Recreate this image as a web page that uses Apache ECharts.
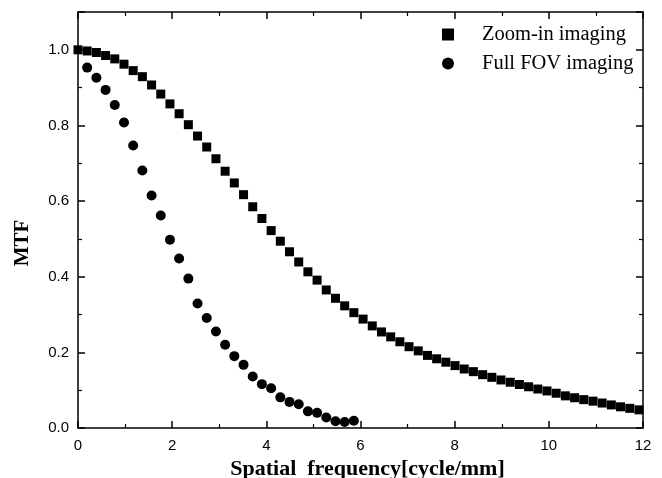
<!DOCTYPE html>
<html>
<head>
<meta charset="utf-8">
<script src="https://cdn.jsdelivr.net/npm/echarts@6/dist/echarts.min.js"></script>
<style>html,body{margin:0;padding:0;background:#fff}#c{width:662px;height:478px}</style>
</head>
<body>
<div id="c"></div>
<script>
// Spatial frequency samples (cycle/mm)
var freq = [0, 0.195, 0.391, 0.586, 0.781, 0.977, 1.172, 1.367, 1.563, 1.758, 1.953, 2.148, 2.344, 2.539, 2.734, 2.930, 3.125, 3.320, 3.516, 3.711, 3.906, 4.102, 4.297, 4.492, 4.688, 4.883, 5.078, 5.273, 5.469, 5.664, 5.859, 6.055, 6.250, 6.445, 6.641, 6.836, 7.031, 7.227, 7.422, 7.617, 7.813, 8.008, 8.203, 8.398, 8.594, 8.789, 8.984, 9.180, 9.375, 9.570, 9.766, 9.961, 10.156, 10.352, 10.547, 10.742, 10.938, 11.133, 11.328, 11.523, 11.719, 11.914];
var zoomInMTF = [1.000, 0.997, 0.993, 0.985, 0.976, 0.962, 0.945, 0.929, 0.907, 0.883, 0.857, 0.831, 0.802, 0.772, 0.743, 0.712, 0.679, 0.648, 0.617, 0.585, 0.554, 0.522, 0.494, 0.466, 0.439, 0.413, 0.391, 0.365, 0.343, 0.323, 0.305, 0.288, 0.270, 0.254, 0.241, 0.228, 0.215, 0.204, 0.192, 0.183, 0.174, 0.165, 0.156, 0.149, 0.141, 0.134, 0.127, 0.121, 0.115, 0.109, 0.103, 0.098, 0.092, 0.085, 0.080, 0.075, 0.071, 0.066, 0.061, 0.056, 0.052, 0.048];
var fullFovFreq = [0.195, 0.391, 0.586, 0.781, 0.977, 1.172, 1.367, 1.563, 1.758, 1.953, 2.148, 2.344, 2.539, 2.734, 2.930, 3.125, 3.320, 3.516, 3.711, 3.906, 4.102, 4.297, 4.492, 4.688, 4.883, 5.078, 5.273, 5.469, 5.664, 5.859];
var fullFovMTF = [0.953, 0.926, 0.894, 0.854, 0.808, 0.747, 0.681, 0.615, 0.562, 0.498, 0.448, 0.395, 0.329, 0.291, 0.255, 0.220, 0.190, 0.167, 0.136, 0.116, 0.105, 0.081, 0.069, 0.063, 0.044, 0.040, 0.028, 0.018, 0.016, 0.019];
var seriesNames = ['Zoom-in imaging', 'Full FOV imaging'];
var xTitle = 'Spatial  frequency[cycle/mm]';
var yTitle = 'MTF';

function pairs(xs, ys) { return xs.map(function (x, i) { return [x, ys[i]]; }); }

var axisLineStyle = { color: '#000', width: 1.5 };
var labelFont = { color: '#000', fontSize: 15, fontFamily: 'Liberation Sans, Arial, sans-serif' };

function xAx(pos, showLabel) {
  return {
    type: 'value', position: pos, min: 0, max: 12, interval: 2,
    axisLine: { show: true, onZero: false, lineStyle: axisLineStyle },
    axisTick: { show: true, inside: true, length: 7, lineStyle: { color: '#000', width: 1.5 } },
    minorTick: { show: true, splitNumber: 2, length: 4, lineStyle: { color: '#000', width: 1.2 } },
    splitLine: { show: false },
    axisLabel: Object.assign({ show: showLabel, margin: 10 }, labelFont)
  };
}
function yAx(pos, showLabel) {
  return {
    type: 'value', position: pos, min: 0, max: 1.1, interval: 0.2,
    axisLine: { show: true, onZero: false, lineStyle: axisLineStyle },
    axisTick: { show: true, inside: true, length: 7, lineStyle: { color: '#000', width: 1.5 } },
    minorTick: { show: true, splitNumber: 2, length: 4, lineStyle: { color: '#000', width: 1.2 } },
    splitLine: { show: false },
    axisLabel: Object.assign({ show: showLabel, margin: 9, showMaxLabel: false,
      formatter: function (v) { return (Math.round(v * 10) % 2 === 0) ? v.toFixed(1) : ''; } }, labelFont)
  };
}

var xBottom = xAx('bottom', true);
xBottom.name = xTitle;
xBottom.nameLocation = 'middle';
xBottom.nameGap = 29;
xBottom.nameTextStyle = { color: '#000', fontSize: 22, fontWeight: 'bold', fontFamily: 'Liberation Serif, Times New Roman, serif', padding: [0, 0, 0, 14] };

var yLeft = yAx('left', true);
yLeft.name = yTitle;
yLeft.nameLocation = 'middle';
yLeft.nameGap = 45;
yLeft.nameTextStyle = { color: '#000', fontSize: 21, fontWeight: 'bold', fontFamily: 'Liberation Serif, Times New Roman, serif', padding: [0, 46, 0, 0] };

var chart = echarts.init(document.getElementById('c'), null, { renderer: 'canvas' });
chart.setOption({
  animation: false,
  backgroundColor: '#fff',
  grid: { left: 78, right: 19, top: 12, bottom: 50, containLabel: false, outerBoundsMode: 'none' },
  xAxis: [xBottom, xAx('top', false)],
  yAxis: [yLeft, yAx('right', false)],
  legend: {
    orient: 'vertical', left: 437, top: 19, itemGap: 8,
    itemWidth: 12, itemHeight: 12,
    textStyle: { color: '#000', fontSize: 20.5, fontFamily: 'Liberation Serif, Times New Roman, serif', padding: [0, 0, 0, 23] },
    data: [
      { name: seriesNames[0], icon: 'rect' },
      { name: seriesNames[1], icon: 'circle' }
    ]
  },
  series: [
    { name: seriesNames[0], type: 'scatter', symbol: 'rect', symbolSize: 9,
      itemStyle: { color: '#000', opacity: 1 }, data: pairs(freq, zoomInMTF) },
    { name: seriesNames[1], type: 'scatter', symbol: 'circle', symbolSize: 10,
      itemStyle: { color: '#000', opacity: 1 }, data: pairs(fullFovFreq, fullFovMTF) }
  ]
});
</script>
</body>
</html>
